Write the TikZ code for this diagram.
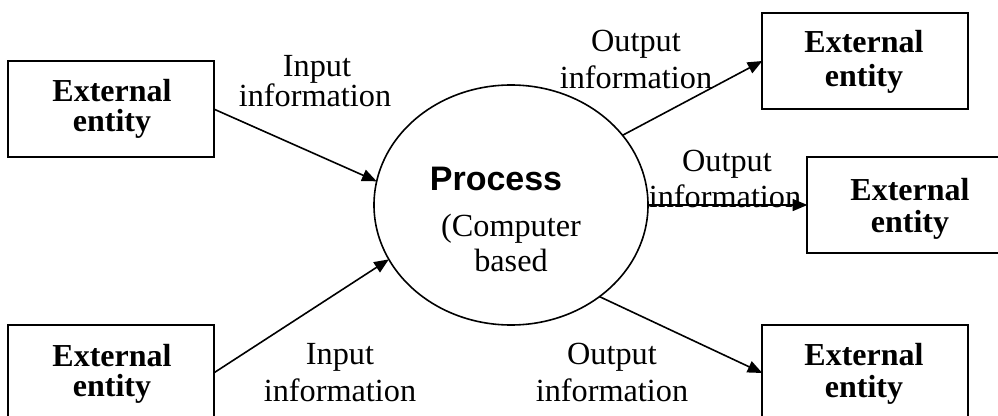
\documentclass[tikz,border=0pt]{standalone}
\usepackage{fontspec}
\setmainfont{Liberation Serif}
\newfontfamily\procfont{Liberation Sans}
\usetikzlibrary{arrows.meta,shapes.geometric}

\begin{document}
\begin{tikzpicture}[x=0.75pt,y=-0.75pt,
  entity/.style={draw, line width=1.3pt, minimum width=154pt, minimum height=72pt,
                 inner sep=0pt, outer sep=0pt},
  proc/.style={draw, ellipse, line width=1.2pt, minimum width=205.5pt, minimum height=180pt,
               inner sep=0pt, outer sep=0pt},
  txt/.style={font=\fontsize{24.2}{28}\selectfont, inner sep=0pt, anchor=base},
  btxt/.style={txt, font=\fontsize{24}{28}\selectfont\bfseries},
  ptxt/.style={inner sep=0pt, anchor=base, font=\fontsize{25.5}{30}\selectfont\procfont\bfseries},
  flow/.style={line width=1.2pt, -{Triangle[length=11pt,width=9pt]}}]

\useasboundingbox (0,0) rectangle (998,416);
\clip (0,0) rectangle (998,416);

% external entities
\node[entity] (tl) at (111,109) {};
\node[entity] (bl) at (111,373) {};
\node[entity] (tr) at (865,61) {};
\node[entity] (mr) at (910,205) {};
\node[entity] (br) at (865,373) {};

\node[btxt] (tlA) at (112,102) {External};
\node[btxt] (tlB) at (112,132) {entity};
\node[btxt] (blA) at (112,366) {External};
\node[btxt] (blB) at (112,396) {entity};
\node[btxt] (trA) at (864,53) {External};
\node[btxt] (trB) at (864,87) {entity};
\node[btxt] (mrA) at (910,201) {External};
\node[btxt] (mrB) at (910,233) {entity};
\node[btxt] (brA) at (864,365) {External};
\node[btxt] (brB) at (864,397) {entity};

% central process
\node[proc] (proc) at (511,205) {};
\node[ptxt] (pA) at (496,191) {Process};
\node[txt] (pB) at (511,237) {(Computer};
\node[txt] (pC) at (511,272) {based};

% flow labels
\node[txt] (in1a) at (317,77) {Input};
\node[txt] (in1b) at (315,107) {information};
\node[txt] (in2a) at (340,364) {Input};
\node[txt] (in2b) at (340,401) {information};
\node[txt] (out1a) at (636,52) {Output};
\node[txt] (out1b) at (636,89) {information};
\node[txt] (out2a) at (727,172) {Output};
\node[txt] (out2b) at (725,208) {information};
\node[txt] (out3a) at (612,364) {Output};
\node[txt] (out3b) at (612,401) {information};

% data flows
\draw[flow] (tl.east) -- (proc.170);
\draw[flow] (bl.east) -- (proc.204);
\draw[flow] (proc.32) -- (tr.west);
\draw[flow] (proc.east) -- (mr.west);
\draw[flow] (proc.-46) -- (br.west);
\end{tikzpicture}
\end{document}
